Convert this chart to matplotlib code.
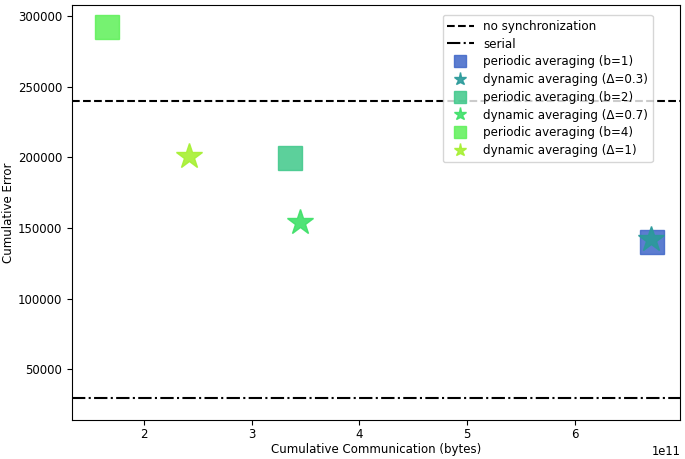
import numpy as np
import matplotlib.pyplot as plt

# data
periodic_labels = ["periodic averaging (b=1)", "periodic averaging (b=2)", "periodic averaging (b=4)"]
periodic_comm = [6.72e11, 3.36e11, 1.66e11]
periodic_err = [140000, 199500, 292000]
periodic_colors = ["#3f66c8", "#3fc88a", "#5ef058"]

dynamic_labels = ["dynamic averaging (\u0394=0.3)", "dynamic averaging (\u0394=0.7)", "dynamic averaging (\u0394=1)"]
dynamic_comm = [6.71e11, 3.45e11, 2.42e11]
dynamic_err = [142000, 154000, 201000]
dynamic_colors = ["#2a9a9a", "#3ee068", "#a6f032"]

no_sync_err = 239500
serial_err = 29500

fig = plt.figure(figsize=(6.85, 4.59), dpi=100)
ax = fig.add_axes([0.105, 0.085, 0.888, 0.904])

ax.axhline(no_sync_err, color="black", linestyle="--", linewidth=1.5, label="no synchronization")
ax.axhline(serial_err, color="black", linestyle="-.", linewidth=1.5, label="serial")

for i in range(3):
    ax.plot(periodic_comm[i], periodic_err[i], "s", markersize=17, color=periodic_colors[i],
            alpha=0.85, linestyle="none", label=periodic_labels[i])
    ax.plot(dynamic_comm[i], dynamic_err[i], "*", markersize=19, color=dynamic_colors[i],
            alpha=0.9, linestyle="none", label=dynamic_labels[i])

ax.set_xlim(1.33e11, 6.98e11)
ax.set_ylim(14200, 307700)
ax.set_yticks([50000, 100000, 150000, 200000, 250000, 300000])
ax.set_xlabel("Cumulative Communication (bytes)", fontsize=8.5, labelpad=1)
ax.set_ylabel("Cumulative Error", fontsize=8.5, labelpad=2)
ax.tick_params(labelsize=8.5)
ax.tick_params(axis="x", pad=2.5)
ax.xaxis.get_offset_text().set_fontsize(8.3)

ax.legend(loc="upper right", bbox_to_anchor=(0.955, 0.976), borderaxespad=0,
          fontsize=8.6, markerscale=0.5, handlelength=2.2, labelspacing=0.4)

fig.savefig("out.png", dpi=100)
